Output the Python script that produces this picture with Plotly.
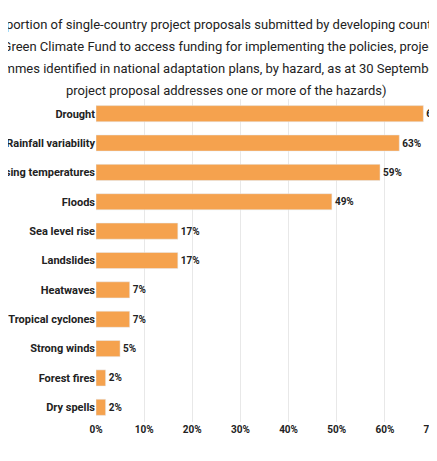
import plotly.graph_objects as go

hazards = ["Drought", "Rainfall variability", "Rising temperatures", "Floods",
           "Sea level rise", "Landslides", "Heatwaves", "Tropical cyclones",
           "Strong winds", "Forest fires", "Dry spells"]
shares = [68, 63, 59, 49, 17, 17, 7, 7, 5, 2, 2]
x_ticks = [0, 10, 20, 30, 40, 50, 60, 70]

title_lines = [
    "Proportion of single-country project proposals submitted by developing countries to",
    "the Green Climate Fund to access funding for implementing the policies, projects and",
    "programmes identified in national adaptation plans, by hazard, as at 30 September 2023 (a",
    "project proposal addresses one or more of the hazards)",
]

H, T, B = 461, 91, 47
plot_h = H - T - B

fig = go.Figure(go.Bar(
    x=shares, y=hazards, orientation="h",
    marker_color="#F5A24E",
    text=[f"<b>{v}%</b>" for v in shares], textposition="outside",
    textfont=dict(size=10, color="#222"), cliponaxis=False,
))

# title lines as separate annotations so the line spacing matches
for i, line in enumerate(title_lines):
    py = 16 + 22.3 * i
    fig.add_annotation(text=line, xref="paper", yref="paper",
                       x=(218 - 88) / (437 - 88 - 12), y=(H - B - py) / plot_h,
                       xanchor="center", yanchor="middle", showarrow=False,
                       font=dict(size=13, color="#222"))

fig.update_layout(
    width=437, height=H,
    margin=dict(l=88, r=12, t=T, b=B),
    plot_bgcolor="white", paper_bgcolor="white",
    font=dict(family="Roboto", color="#222"),
    showlegend=False, bargap=0.45,
    xaxis=dict(range=[0, 70], tickvals=x_ticks,
               ticktext=[f"<b>{t}%</b>" for t in x_ticks],
               tickfont=dict(size=10), showgrid=True, gridcolor="#e8e8e8",
               zeroline=False, fixedrange=True, automargin=False),
    yaxis=dict(autorange="reversed", automargin=False,
               tickvals=hazards, ticktext=[f"<b>{h}</b>" for h in hazards],
               tickfont=dict(size=11), ticksuffix="  ", showgrid=False),
)

fig.write_html("out.html")
